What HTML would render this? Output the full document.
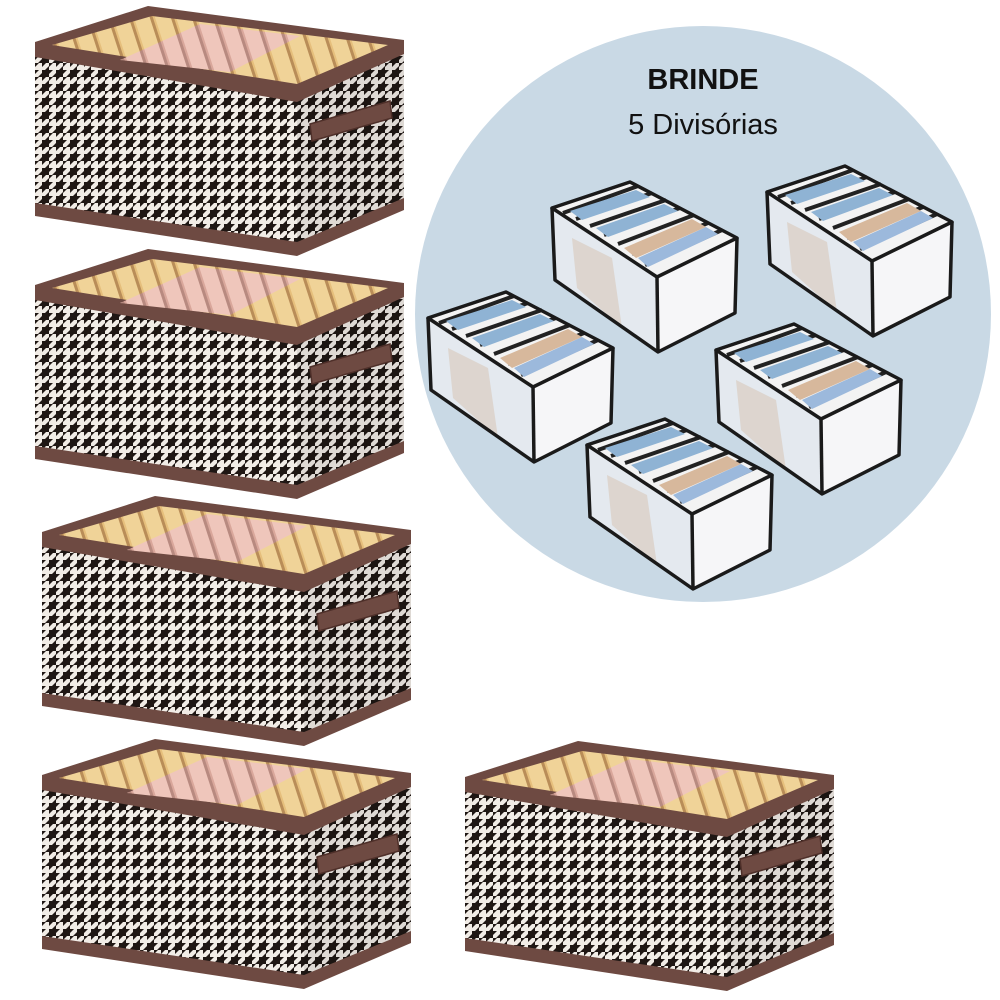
<!DOCTYPE html>
<html><head><meta charset="utf-8"><style>
html,body{margin:0;padding:0;background:#fff;width:1000px;height:1000px;overflow:hidden}
</style></head><body>
<svg width="1000" height="1000" viewBox="0 0 1000 1000" xmlns="http://www.w3.org/2000/svg">
<defs>
  <pattern id="hound" width="14" height="14" patternUnits="userSpaceOnUse">
    <rect width="14" height="14" fill="#f1ece6"/>
    <rect x="0" y="0" width="7" height="7" fill="#1f1714"/>
    <polygon points="7,7 11,7 7,11" fill="#1f1714"/>
    <polygon points="7,0 11,0 7,4" fill="#1f1714"/>
    <polygon points="0,7 4,7 0,11" fill="#1f1714"/>
    <polygon points="7,7 7,3 3,7" fill="#1f1714"/>
    <polygon points="14,7 14,3 10,7" fill="#1f1714"/>
    <polygon points="7,14 7,10 3,14" fill="#1f1714"/>
  </pattern>
  <pattern id="clothes" width="20" height="40" patternUnits="userSpaceOnUse" patternTransform="rotate(-18)">
    <rect width="20" height="40" fill="#e6bf7c"/>
    <rect x="2" width="15" height="40" fill="#f0d398"/>
    <rect x="17" width="3" height="40" fill="#b98d58"/>
  </pattern>
  <pattern id="pink" width="20" height="40" patternUnits="userSpaceOnUse" patternTransform="rotate(-18)">
    <rect width="20" height="40" fill="#d9a79b"/>
    <rect x="2" width="15" height="40" fill="#efc6bb"/>
    <rect x="17" width="3" height="40" fill="#b88a80"/>
  </pattern>
  <g id="box">
    <polygon points="35,48 297,95 297,250 35,212" fill="url(#hound)"/>
    <polygon points="297,95 404,45 404,208 297,250" fill="url(#hound)"/>
    <polygon points="297,95 404,45 404,208 297,250" fill="#000" opacity="0.08"/>
    <polygon points="35,42 148,6 404,40 404,54 297,102 35,57" fill="#6e4a42"/>
    <polygon points="52,45 152,16 388,45 297,84" fill="url(#clothes)"/>
    <polygon points="120,60 200,24 300,36 230,72" fill="url(#pink)"/>
    <polygon points="35,203 297,242 404,198 404,210 297,256 35,216" fill="#6e4a42"/>
    <polygon points="310,124 390,101 392,118 312,141" fill="#6e4a42" stroke="#4e2f29" stroke-width="1.5"/>
  </g>
  <g id="org">
    <polygon points="0,0 78,-26 185,30 105,69" fill="#f3f3f3"/>
    <g stroke="#222" stroke-width="4">
      <line x1="86" y1="-22" x2="11" y2="5"/>
      <line x1="100" y1="-15" x2="24" y2="11"/>
      <line x1="114" y1="-8" x2="38" y2="18"/>
      <line x1="128" y1="0" x2="52" y2="27"/>
      <line x1="142" y1="7" x2="66" y2="36"/>
      <line x1="156" y1="15" x2="80" y2="46"/>
      <line x1="170" y1="22" x2="93" y2="57"/>
    </g>
    <polygon points="18,3 84,-18 98,-11 30,12" fill="#8fb3d4"/>
    <polygon points="44,20 112,-4 126,3 56,29" fill="#8fb3d4"/>
    <polygon points="72,40 140,11 154,19 84,50" fill="#d7b89c"/>
    <polygon points="86,50 154,19 166,26 96,59" fill="#9cb9dc"/>
    <polygon points="0,0 105,69 105,141 3,72" fill="#e6eaf0" opacity="0.92"/>
    <polygon points="20,30 60,50 70,120 25,80" fill="#d6c2b0" opacity="0.5"/>
    <polygon points="105,69 185,30 183,105 106,144" fill="#f6f6f8"/>
    <g fill="none" stroke="#1a1a1a" stroke-width="3.5" stroke-linejoin="round">
      <polygon points="0,0 78,-26 185,30 105,69"/>
      <polyline points="0,0 3,72 106,144 183,105 185,30"/>
      <line x1="105" y1="69" x2="106" y2="144"/>
    </g>
  </g>
</defs>
<circle cx="703" cy="314" r="288" fill="#c9d9e5"/>
<text x="703" y="89" text-anchor="middle" font-family="Liberation Sans, sans-serif" font-weight="bold" font-size="29" fill="#111">BRINDE</text>
<text x="703" y="134" text-anchor="middle" font-family="Liberation Sans, sans-serif" font-size="29" fill="#111">5 Divisórias</text>
<use href="#org" x="552" y="208"/>
<use href="#org" x="767" y="192"/>
<use href="#org" x="428" y="318"/>
<use href="#org" x="716" y="350"/>
<use href="#org" x="587" y="445"/>
<use href="#box" x="0" y="0"/>
<use href="#box" x="0" y="243"/>
<use href="#box" x="7" y="490"/>
<use href="#box" x="7" y="733"/>
<use href="#box" x="430" y="735"/>
</svg>
</body></html>
